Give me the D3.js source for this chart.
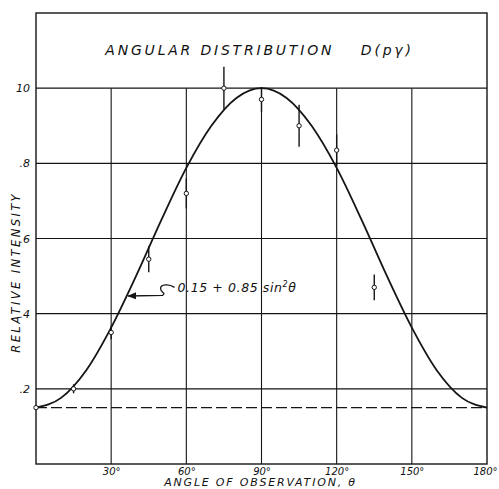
<!DOCTYPE html>
<html>
<head>
<meta charset="utf-8">
<script src="https://cdn.jsdelivr.net/npm/d3@7"></script>
<style>
  body { margin: 0; background: #fff; }
  svg { display: block; }
  text { font-family: "DejaVu Sans", sans-serif; font-style: oblique; fill: #111; }
</style>
</head>
<body>
<svg id="chart" width="499" height="489"></svg>
<script>
// observed points (angle in degrees, relative intensity, half error bar)
const obsAngle = [0, 15, 30, 45, 60, 75, 90, 105, 120, 135];
const obsValue = [0.15, 0.20, 0.35, 0.545, 0.72, 1.0, 0.97, 0.90, 0.835, 0.47];
const obsErr   = [0.005, 0.012, 0.018, 0.035, 0.04, 0.057, 0.033, 0.056, 0.042, 0.034];

// fitted curve, every 10 degrees
const curveAngle = [0, 10, 20, 30, 40, 50, 60, 70, 80, 90, 100, 110, 120, 130, 140, 150, 160, 170, 180];
const curveValue = [0.15, 0.176, 0.249, 0.363, 0.501, 0.649, 0.788, 0.90, 0.974, 1.0,
                    0.974, 0.90, 0.788, 0.649, 0.501, 0.363, 0.249, 0.176, 0.15];

const xTicks = [30, 60, 90, 120, 150, 180];
const xTickLabels = ["30°", "60°", "90°", "120°", "150°", "180°"];
const yTicks = [0.2, 0.4, 0.6, 0.8, 1.0];
const yTickLabels = [".2", ".4", ".6", ".8", "10"];
const baseline = 0.15;

const svg = d3.select('#chart');
const margin = { top: 13, right: 12, bottom: 25, left: 36 };
const W = +svg.attr('width'), H = +svg.attr('height');

const x = d3.scaleLinear().domain([0, 180]).range([margin.left, W - margin.right]);
const y = d3.scaleLinear().domain([0, 1.2]).range([H - margin.bottom, margin.top]);

const ink = '#151515';

// vertical grid (stops at the 1.0 line, title box above)
svg.append('g').selectAll('line')
  .data(xTicks.slice(0, -1))
  .join('line')
  .attr('x1', d => x(d)).attr('x2', d => x(d))
  .attr('y1', y(1.0)).attr('y2', y(0))
  .attr('stroke', ink).attr('stroke-width', 1.1);

// horizontal grid
svg.append('g').selectAll('line')
  .data(yTicks)
  .join('line')
  .attr('x1', x(0)).attr('x2', x(180))
  .attr('y1', d => y(d)).attr('y2', d => y(d))
  .attr('stroke', ink).attr('stroke-width', 1.1);

// frame
svg.append('rect')
  .attr('x', x(0)).attr('y', y(1.2))
  .attr('width', x(180) - x(0)).attr('height', y(0) - y(1.2))
  .attr('fill', 'none').attr('stroke', ink).attr('stroke-width', 1.4);

// dashed baseline at 0.15
svg.append('line')
  .attr('x1', x(0)).attr('x2', x(180))
  .attr('y1', y(baseline)).attr('y2', y(baseline))
  .attr('stroke', ink).attr('stroke-width', 1.1)
  .attr('stroke-dasharray', '11,4');

// curve
const curvePts = curveAngle.map((a, i) => [a, curveValue[i]]);
const line = d3.line()
  .x(d => x(d[0]))
  .y(d => y(d[1]))
  .curve(d3.curveMonotoneX);

svg.append('path')
  .datum(curvePts)
  .attr('fill', 'none')
  .attr('stroke', ink)
  .attr('stroke-width', 1.8)
  .attr('d', line);

// error bars and points
const obs = obsAngle.map((a, i) => ({ a, v: obsValue[i], e: obsErr[i] }));
svg.append('g').selectAll('line')
  .data(obs)
  .join('line')
  .attr('x1', d => x(d.a)).attr('x2', d => x(d.a))
  .attr('y1', d => y(d.v + d.e)).attr('y2', d => y(d.v - d.e))
  .attr('stroke', ink).attr('stroke-width', 1.4);

svg.append('g').selectAll('circle')
  .data(obs)
  .join('circle')
  .attr('cx', d => x(d.a)).attr('cy', d => y(d.v))
  .attr('r', 2.2)
  .attr('fill', '#fff').attr('stroke', ink).attr('stroke-width', 1);

// axes labels
const xAxis = svg.append('g')
  .attr('transform', `translate(0,${y(0)})`)
  .call(d3.axisBottom(x).tickValues(xTicks).tickSize(0).tickPadding(4)
    .tickFormat((d, i) => xTickLabels[i]));
xAxis.select('.domain').remove();
xAxis.selectAll('text').attr('font-size', 10)
  .style('font-family', '"DejaVu Sans", sans-serif').style('font-style', 'oblique').attr('fill', ink);
xAxis.selectAll('text').filter(d => d === 180).attr('text-anchor', 'end').attr('dx', 10);

const yAxis = svg.append('g')
  .attr('transform', `translate(${x(0) - 5},0)`)
  .call(d3.axisLeft(y).tickValues(yTicks).tickSize(0).tickPadding(1)
    .tickFormat((d, i) => yTickLabels[i]));
yAxis.select('.domain').remove();
yAxis.selectAll('text').attr('font-size', 11)
  .style('font-family', '"DejaVu Sans", sans-serif').style('font-style', 'oblique').attr('fill', ink);

// title
svg.append('text')
  .attr('x', x(90) - 2).attr('y', y(1.1) + 4)
  .attr('text-anchor', 'middle')
  .attr('font-size', 14)
  .attr('letter-spacing', 2.8)
  .text('ANGULAR DISTRIBUTION\u2003\u2002D(pγ)');

// axis titles
svg.append('text')
  .attr('x', x(90) - 1).attr('y', H - 3)
  .attr('text-anchor', 'middle')
  .attr('font-size', 11)
  .attr('letter-spacing', 1.8)
  .text('ANGLE OF OBSERVATION, θ');

svg.append('text')
  .attr('transform', `translate(20,${y(0.51)}) rotate(-90)`)
  .attr('text-anchor', 'middle')
  .attr('font-size', 11.5)
  .attr('letter-spacing', 2.4)
  .text('RELATIVE  INTENSITY');

// formula annotation with wavy leader and arrow
svg.append('defs').append('marker')
  .attr('id', 'arr').attr('viewBox', '0 0 10 10')
  .attr('refX', 9).attr('refY', 5)
  .attr('markerWidth', 7).attr('markerHeight', 7)
  .attr('orient', 'auto-start-reverse')
  .append('path').attr('d', 'M0,1 L10,5 L0,9 Z').attr('fill', ink);

const tip = [x(36.4), y(0.447)];
const start = [x(55.3), y(0.47)];
svg.append('path')
  .attr('d', `M${start[0]},${start[1]}
              C${start[0] - 6},${start[1] - 4} ${start[0] - 14},${start[1] - 3} ${start[0] - 14},${start[1] + 1}
              C${start[0] - 14},${start[1] + 6} ${start[0] - 8},${start[1] + 5} ${start[0] - 12},${start[1] + 8}
              L${tip[0] + 1},${tip[1]}`)
  .attr('fill', 'none').attr('stroke', ink).attr('stroke-width', 1.3)
  .attr('marker-end', 'url(#arr)');

const ann = svg.append('text')
  .attr('x', start[0] + 3).attr('y', start[1] + 5)
  .attr('font-size', 12.5)
  .attr('letter-spacing', 0.6);
ann.append('tspan').text('0.15 + 0.85 sin');
ann.append('tspan').attr('dy', -5).attr('font-size', 8).text('2');
ann.append('tspan').attr('dy', 5).text('θ');
</script>
</body>
</html>
